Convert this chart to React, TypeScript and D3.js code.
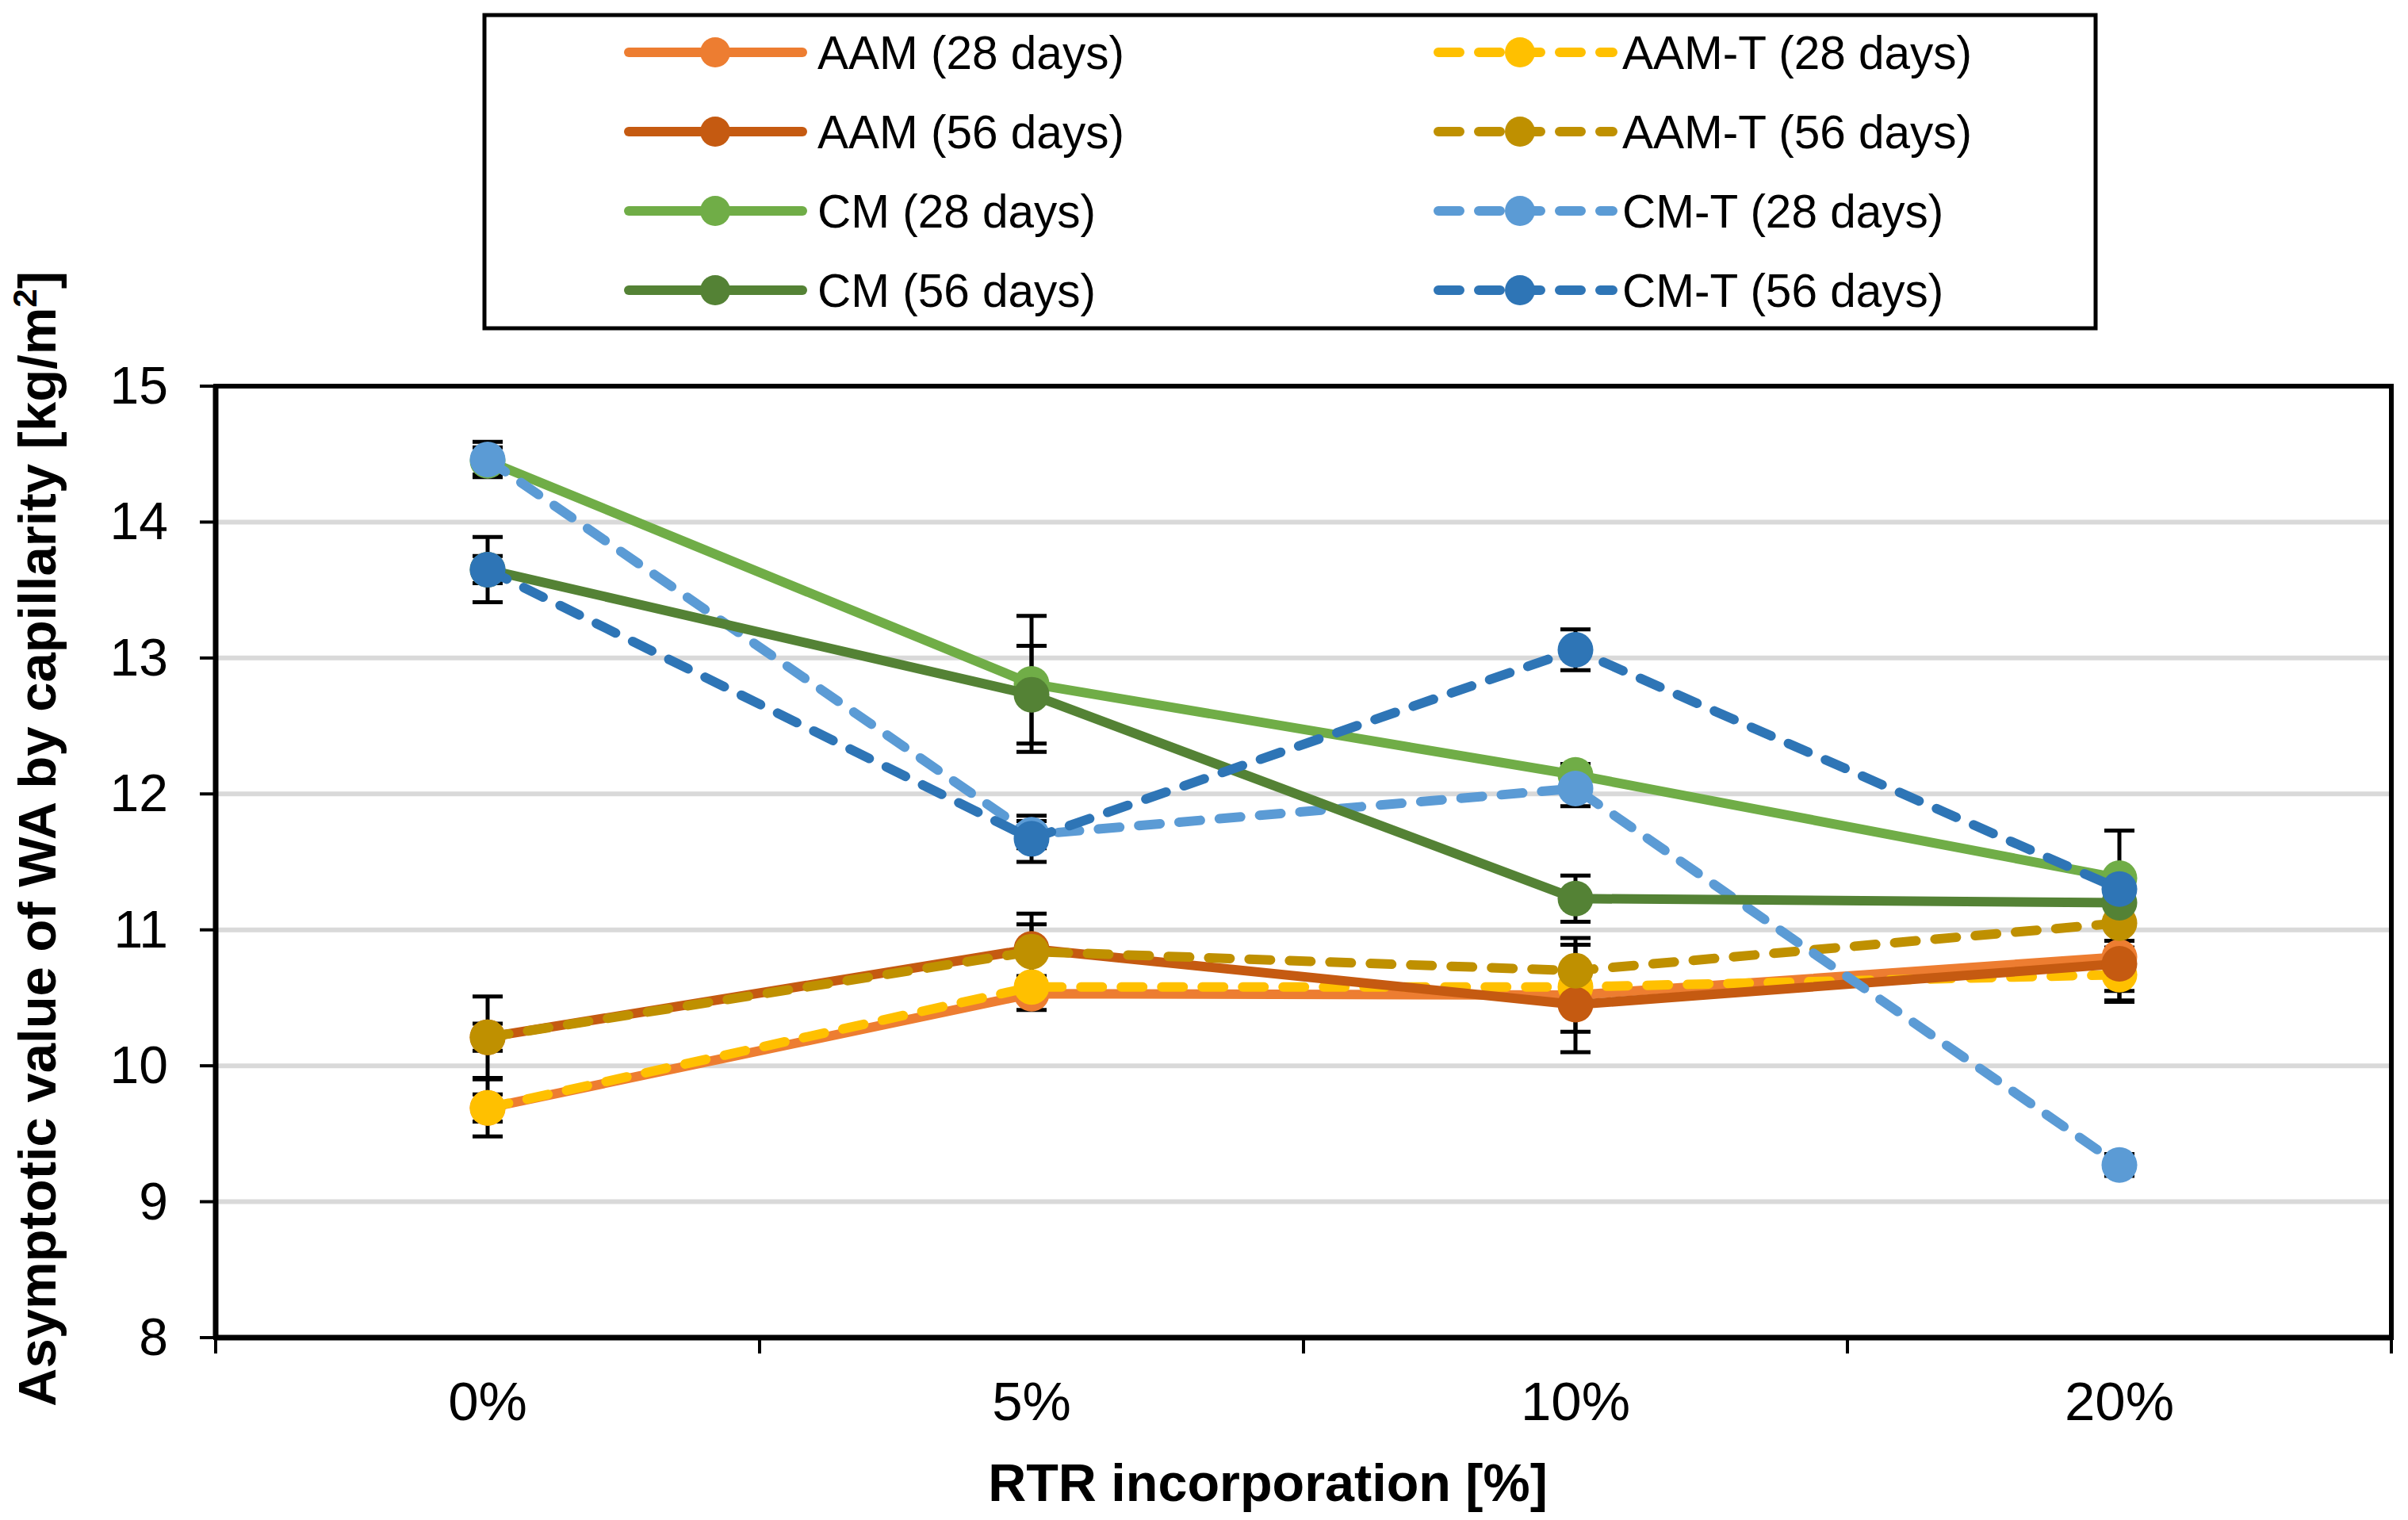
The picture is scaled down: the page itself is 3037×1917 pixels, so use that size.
import * as d3 from "d3";
import React from "react";

// categories and series values
const categories = ["0%", "5%", "10%", "20%"];
const yTicks = [8, 9, 10, 11, 12, 13, 14, 15];

const aam28 = [9.69, 10.53, 10.52, 10.8];
const aamT28 = [9.69, 10.58, 10.58, 10.67];
const aam56 = [10.21, 10.86, 10.45, 10.75];
const aamT56 = [10.21, 10.84, 10.7, 11.05];
const cm28 = [14.45, 12.81, 12.14, 11.38];
const cmT28 = [14.46, 11.7, 12.04, 9.27];
const cm56 = [13.65, 12.73, 11.23, 11.2];
const cmT56 = [13.65, 11.67, 13.06, 11.3];

// error bar half-widths
const aam28Err = [0.21, 0.12, 0.42, 0.25];
const aamT28Err = [0.1, 0.08, 0.1, 0.2];
const aam56Err = [0.1, 0.26, 0.2, 0.27];
const aamT56Err = [0.3, 0.2, 0.19, 0.13];
const cm28Err = [0.1, 0.5, 0.08, 0.35];
const cmT28Err = [0.13, 0.1, 0.13, 0.08];
const cm56Err = [0.1, 0.36, 0.17, 0.1];
const cmT56Err = [0.24, 0.17, 0.15, 0.1];

const seriesNames = [
  "AAM (28 days)",
  "AAM-T (28 days)",
  "AAM (56 days)",
  "AAM-T (56 days)",
  "CM (28 days)",
  "CM-T (28 days)",
  "CM (56 days)",
  "CM-T (56 days)",
];
const seriesValues = [aam28, aamT28, aam56, aamT56, cm28, cmT28, cm56, cmT56];
const seriesErrors = [aam28Err, aamT28Err, aam56Err, aamT56Err, cm28Err, cmT28Err, cm56Err, cmT56Err];
const seriesColors = ["#ED7D31", "#FFC000", "#C55A11", "#BF9000", "#70AD47", "#5B9BD5", "#548235", "#2E75B6"];
const seriesDashed = [false, true, false, true, false, true, false, true];

const W = 3037;
const H = 1917;
const plot = { left: 272, right: 3016, top: 487, bottom: 1687 };
const FONT = "'Liberation Sans', Arial, sans-serif";
const DASH = "27 24";

export default function App() {
  const x = d3.scaleBand<string>().domain(categories).range([plot.left, plot.right]).padding(0);
  const cx = (c: string) => (x(c) ?? 0) + x.bandwidth() / 2;
  const y = d3.scaleLinear().domain([8, 15]).range([plot.bottom, plot.top]);

  const line = d3
    .line<number>()
    .x((_, i) => cx(categories[i]))
    .y((d) => y(d));

  const xTickPos = [...categories.map((c) => x(c) ?? 0), plot.right];

  // legend layout: two columns, row-wise in series order
  const legendRows = [66, 166, 266, 366];
  const legendCols = [
    { x1: 793, x2: 1012, mx: 902, tx: 1031 },
    { x1: 1814, x2: 2034, mx: 1917, tx: 2046 },
  ];

  return (
    <svg
      width={W}
      height={H}
      viewBox={`0 0 ${W} ${H}`}
      style={{ position: "absolute", left: 0, top: 0, background: "#fff" }}
      fontFamily={FONT}
    >
      <rect x={0} y={0} width={W} height={H} fill="#fff" />

      {/* gridlines */}
      {yTicks.slice(1, -1).map((t) => (
        <line key={t} x1={plot.left} x2={plot.right} y1={y(t)} y2={y(t)} stroke="#D9D9D9" strokeWidth={6} />
      ))}

      {/* plot border */}
      <rect
        x={plot.left}
        y={plot.top}
        width={plot.right - plot.left}
        height={plot.bottom - plot.top}
        fill="none"
        stroke="#000"
        strokeWidth={6}
      />
      <line x1={plot.left} x2={plot.left} y1={plot.top} y2={plot.bottom} stroke="#000" strokeWidth={7} />
      <line x1={plot.left} x2={plot.right} y1={plot.bottom} y2={plot.bottom} stroke="#000" strokeWidth={7} />

      {/* y ticks and labels */}
      {yTicks.map((t) => (
        <g key={t}>
          <line x1={252} x2={plot.left} y1={y(t)} y2={y(t)} stroke="#000" strokeWidth={4} />
          <text x={212} y={y(t) + 22} textAnchor="end" fontSize={66}>
            {t}
          </text>
        </g>
      ))}

      {/* x ticks and labels */}
      {xTickPos.map((p, i) => (
        <line key={i} x1={p} x2={p} y1={plot.bottom} y2={plot.bottom + 20} stroke="#000" strokeWidth={4} />
      ))}
      {categories.map((c) => (
        <text key={c} x={cx(c)} y={1791} textAnchor="middle" fontSize={69}>
          {c}
        </text>
      ))}

      {/* axis titles */}
      <text x={1599} y={1893} textAnchor="middle" fontSize={66.5} fontWeight="bold">
        RTR incorporation [%]
      </text>
      <text
        transform={`translate(70, 1058) rotate(-90)`}
        textAnchor="middle"
        fontSize={67}
        fontWeight="bold"
      >
        Asymptotic value of WA by capillarity [kg/m
        <tspan fontSize={42} dy={-24}>
          2
        </tspan>
        <tspan dy={24}>]</tspan>
      </text>

      {/* error bars */}
      {seriesValues.map((vals, s) =>
        vals.map((v, i) => {
          const e = seriesErrors[s][i];
          const px = cx(categories[i]);
          const yHi = y(v + e);
          const yLo = y(v - e);
          return (
            <g key={`${s}-${i}`} stroke="#000" strokeWidth={5}>
              <line x1={px} x2={px} y1={yHi} y2={yLo} />
              <line x1={px - 19} x2={px + 19} y1={yHi} y2={yHi} />
              <line x1={px - 19} x2={px + 19} y1={yLo} y2={yLo} />
            </g>
          );
        }),
      )}

      {/* series */}
      {seriesValues.map((vals, s) => (
        <g key={seriesNames[s]}>
          <path
            d={line(vals) ?? ""}
            fill="none"
            stroke={seriesColors[s]}
            strokeWidth={12}
            strokeLinejoin="round"
            strokeLinecap="round"
            strokeDasharray={seriesDashed[s] ? DASH : undefined}
          />
          {vals.map((v, i) => (
            <circle key={i} cx={cx(categories[i])} cy={y(v)} r={22.5} fill={seriesColors[s]} />
          ))}
        </g>
      ))}

      {/* legend */}
      <rect x={611} y={19} width={2643 - 611} height={414 - 19} fill="#fff" stroke="#000" strokeWidth={5} />
      {seriesNames.map((name, s) => {
        const col = legendCols[s % 2];
        const ry = legendRows[Math.floor(s / 2)];
        return (
          <g key={name}>
            <line
              x1={col.x1}
              x2={col.x2}
              y1={ry}
              y2={ry}
              stroke={seriesColors[s]}
              strokeWidth={12}
              strokeLinecap="round"
              strokeDasharray={seriesDashed[s] ? DASH : undefined}
            />
            <circle cx={col.mx} cy={ry} r={19} fill={seriesColors[s]} />
            <text x={col.tx} y={ry + 21} fontSize={58.5}>
              {name}
            </text>
          </g>
        );
      })}
    </svg>
  );
}
